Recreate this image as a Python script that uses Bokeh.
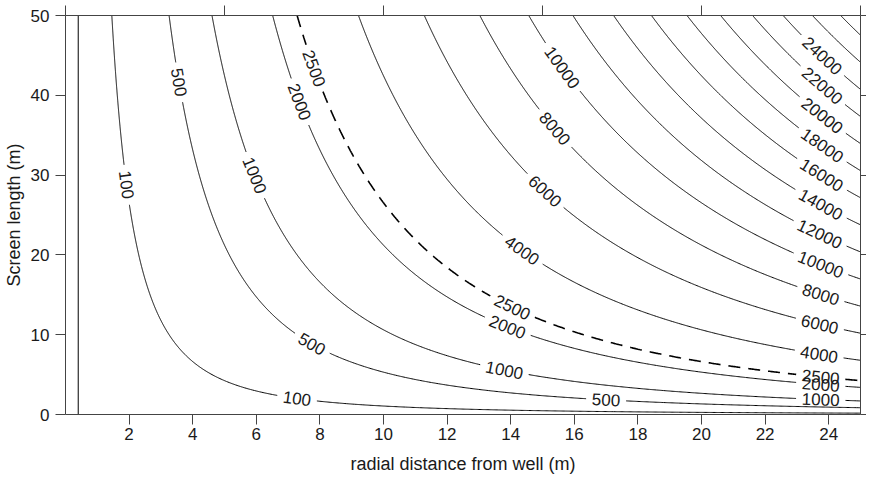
import numpy as np
import contourpy
from bokeh.plotting import figure
from bokeh.models import Range1d, LinearAxis, FixedTicker, CustomJSTickFormatter
from bokeh.core.properties import value
from bokeh.embed import file_html
from bokeh.resources import INLINE

# ---------------- data ----------------
POROSITY = 0.3                      # V = n * pi * r^2 * L
WELL_RADIUS = 0.4
X_MIN, X_MAX = 0, 25
Y_MIN, Y_MAX = 0, 50

solid_levels = [100, 500, 1000, 2000, 4000, 6000, 8000, 10000, 12000, 14000,
                16000, 18000, 20000, 22000, 24000, 26000, 28000]
dashed_levels = [2500]

# contour labels: level and radial position of the label
label_levels = [100, 100,
                500, 500, 500,
                1000, 1000, 1000,
                2000, 2000, 2000,
                2500, 2500, 2500,
                4000, 4000,
                6000, 6000,
                8000, 8000,
                10000, 10000,
                12000, 14000, 16000, 18000, 20000, 22000, 24000]
label_r = [1.92, 7.28,
           3.57, 7.75, 17.0,
           5.95, 13.8, 23.75,
           7.36, 13.9, 23.75,
           7.82, 14.05, 23.75,
           14.36, 23.7,
           15.08, 23.72,
           15.39, 23.75,
           15.62, 23.75,
           23.72, 23.75, 23.78, 23.8, 23.8, 23.8, 23.8]

x_ticks = [2, 4, 6, 8, 10, 12, 14, 16, 18, 20, 22, 24]
y_ticks = [0, 10, 20, 30, 40, 50]
top_ticks = [0, 5, 10, 15, 20, 25]
right_ticks = [0, 10, 20, 30, 40, 50]

# ---------------- layout ----------------
W, H = 866, 478
BL, BR, BT, BB = 59, 6, 15, 64
FRAME_W = W - BL - BR
FRAME_H = H - BT - BB
sx = FRAME_W / (X_MAX - X_MIN)
sy = FRAME_H / (Y_MAX - Y_MIN)
FS = 17
GAP = 6
FONT = "Liberation Sans"
AXC = "#444444"
TXC = "#1a1a1a"

# ---------------- field ----------------
r = np.linspace(X_MIN, X_MAX, 701)
Lg = np.linspace(Y_MIN, Y_MAX, 701)
R, LL = np.meshgrid(r, Lg)
V = POROSITY * np.pi * R ** 2 * LL
gen = contourpy.contour_generator(r, Lg, V)


def cut_line(seg, lxs, text):
    P = np.column_stack([seg[:, 0] * sx, seg[:, 1] * sy])
    d = np.hypot(np.diff(P[:, 0]), np.diff(P[:, 1]))
    s = np.concatenate([[0.0], np.cumsum(d)])
    xs = seg[:, 0]
    order = np.argsort(xs)
    half = len(text) * 0.556 * FS / 2 + GAP
    cuts, labs = [], []
    for lx in lxs:
        if lx < xs.min() or lx > xs.max():
            continue
        sl = np.interp(lx, xs[order], s[order])
        a, b = max(sl - half, 0.0), min(sl + half, s[-1])
        xa, ya = np.interp(a, s, P[:, 0]), np.interp(a, s, P[:, 1])
        xb, yb = np.interp(b, s, P[:, 0]), np.interp(b, s, P[:, 1])
        ang = np.arctan2(yb - ya, xb - xa)
        if ang > np.pi / 2:
            ang -= np.pi
        elif ang < -np.pi / 2:
            ang += np.pi
        xc, yc = np.interp(sl, s, P[:, 0]), np.interp(sl, s, P[:, 1])
        labs.append((xc / sx, yc / sy, ang, text))
        cuts.append((a, b))
    cuts.sort()
    bounds, start = [], 0.0
    for a, b in cuts:
        bounds.append((start, a))
        start = b
    bounds.append((start, s[-1]))
    pieces = []
    for a, b in bounds:
        if b - a <= 0.5:
            continue
        inner = (s > a) & (s < b)
        px = np.concatenate([[np.interp(a, s, P[:, 0])], P[inner, 0], [np.interp(b, s, P[:, 0])]])
        py = np.concatenate([[np.interp(a, s, P[:, 1])], P[inner, 1], [np.interp(b, s, P[:, 1])]])
        pieces.append((list(px / sx), list(py / sy)))
    return pieces, labs


def build(levels):
    xs_all, ys_all, labs_all = [], [], []
    for lev in levels:
        lxs = [lr for ll, lr in zip(label_levels, label_r) if ll == lev]
        for seg in gen.lines(lev):
            if len(seg) < 2:
                continue
            pieces, labs = cut_line(np.asarray(seg), lxs, str(lev))
            for px, py in pieces:
                xs_all.append(px)
                ys_all.append(py)
            labs_all.extend(labs)
    return xs_all, ys_all, labs_all


sxs, sys_, slabs = build(solid_levels)
dxs, dys, dlabs = build(dashed_levels)
labs = slabs + dlabs

# ---------------- figure ----------------
p = figure(width=W, height=H, x_range=Range1d(X_MIN, X_MAX), y_range=Range1d(Y_MIN, Y_MAX),
           output_backend="svg", toolbar_location=None,
           min_border_left=BL, min_border_right=BR, min_border_top=BT, min_border_bottom=BB,
           x_axis_label="radial distance from well (m)", y_axis_label="Screen length (m)")
p.outline_line_color = None
p.grid.visible = False
p.background_fill_color = "white"
p.border_fill_color = "white"

p.multi_line(xs=sxs, ys=sys_, line_color="black", line_width=1)
p.multi_line(xs=dxs, ys=dys, line_color="black", line_width=1.6, line_dash="12 8")
p.segment(x0=[WELL_RADIUS], y0=[Y_MIN], x1=[WELL_RADIUS], y1=[Y_MAX], line_color="black", line_width=1)

p.text(x=[l[0] for l in labs], y=[l[1] for l in labs], text=[l[3] for l in labs],
       angle=[l[2] for l in labs], text_align="center", text_baseline="middle",
       text_font=value(FONT), text_font_size=f"{FS}px", text_color=TXC)

for ax in (p.xaxis[0], p.yaxis[0]):
    ax.axis_line_color = AXC
    ax.major_tick_line_color = AXC
    ax.minor_tick_line_color = None
    ax.major_tick_in = 0
    ax.major_tick_out = 10
    ax.major_label_text_font = FONT
    ax.major_label_text_font_size = f"{FS}px"
    ax.major_label_text_color = TXC
    ax.axis_label_text_font = FONT
    ax.axis_label_text_font_size = "18px"
    ax.axis_label_text_font_style = "normal"
    ax.axis_label_text_color = TXC

p.xaxis[0].ticker = FixedTicker(ticks=x_ticks)
p.yaxis[0].ticker = FixedTicker(ticks=y_ticks)
p.xaxis[0].major_label_standoff = 3
p.xaxis[0].axis_label_standoff = 11
p.yaxis[0].major_label_standoff = 6
p.yaxis[0].axis_label_standoff = 4

blank = CustomJSTickFormatter(code="return ''")
top = LinearAxis(ticker=FixedTicker(ticks=top_ticks), formatter=blank,
                 major_label_standoff=0, major_tick_in=0, major_tick_out=10,
                 axis_line_color=AXC, major_tick_line_color=AXC, minor_tick_line_color=None)
right = LinearAxis(ticker=FixedTicker(ticks=right_ticks), formatter=blank,
                   major_label_standoff=0, major_tick_in=0, major_tick_out=6,
                   axis_line_color=AXC, major_tick_line_color=AXC, minor_tick_line_color=None)
p.add_layout(top, "above")
p.add_layout(right, "right")

open("out.html", "w").write(file_html(p, INLINE))
